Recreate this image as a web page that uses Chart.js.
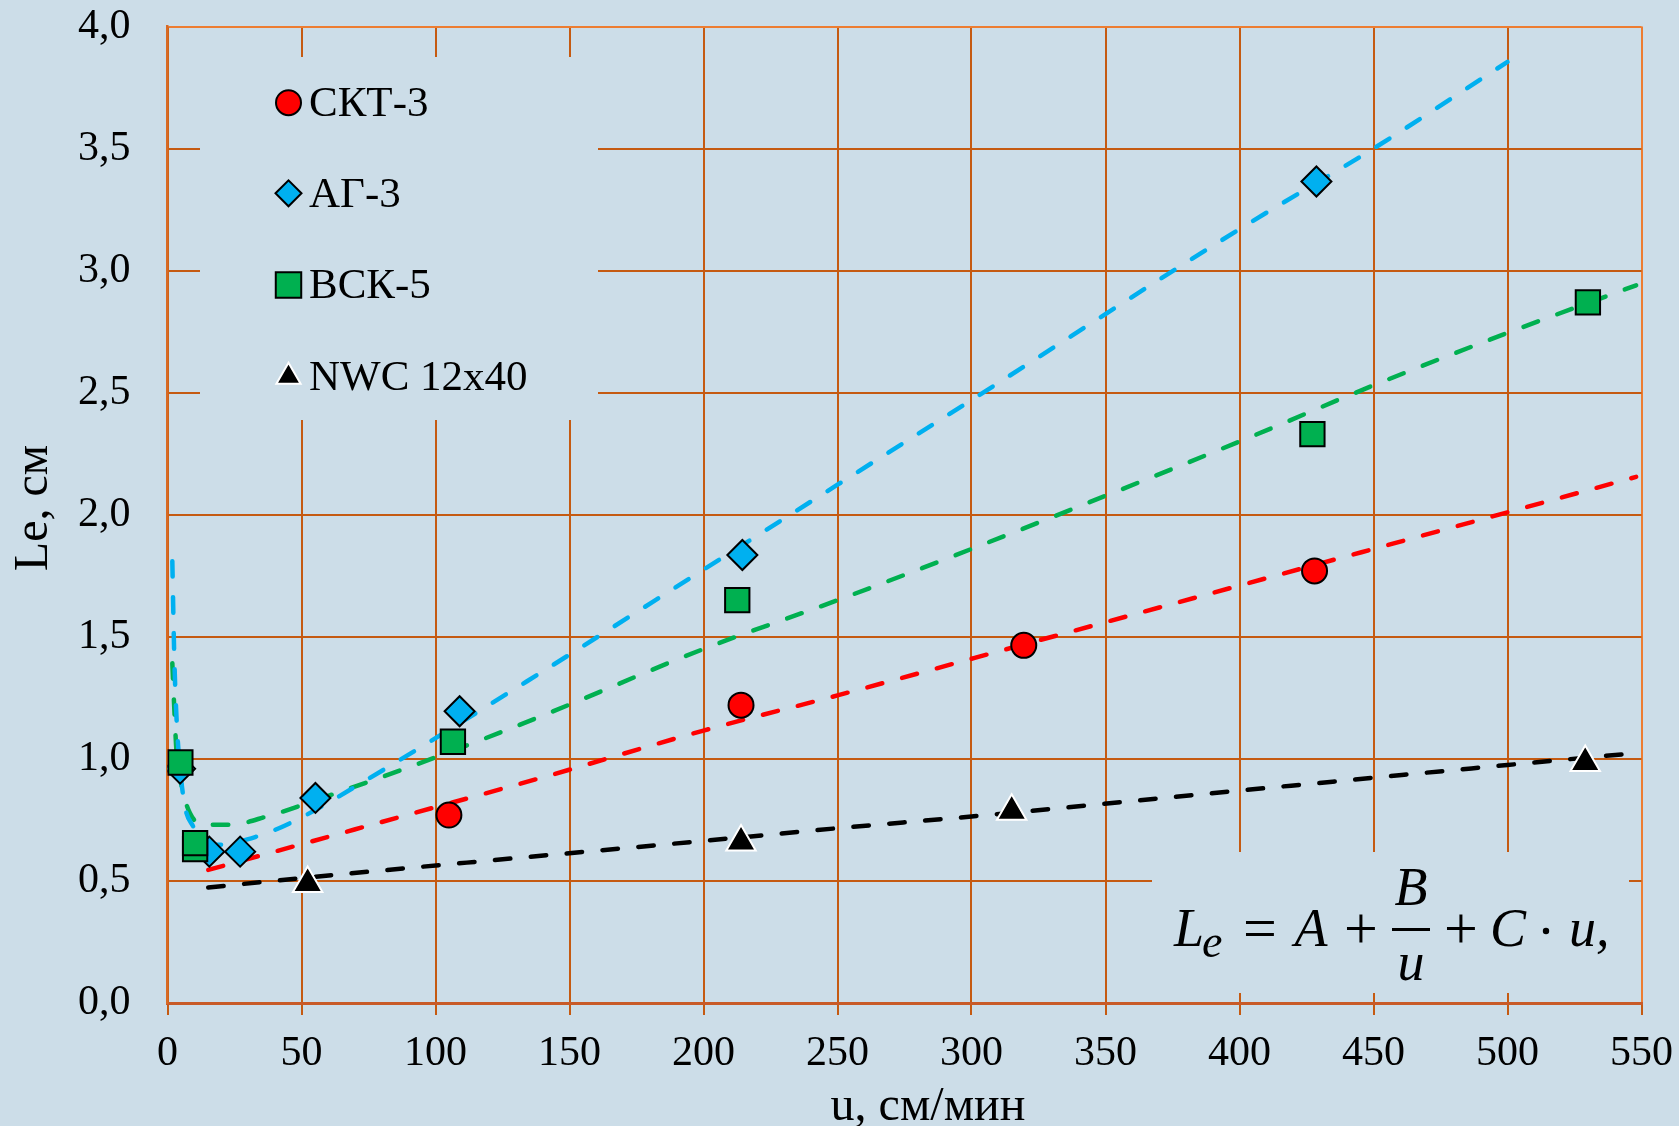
<!DOCTYPE html>
<html>
<head>
<meta charset="utf-8">
<script src="https://cdn.jsdelivr.net/npm/chart.js@4/dist/chart.umd.min.js"></script>
<style>
  html, body { margin: 0; padding: 0; background: #CCDDE8; }
  #wrap { width: 1679px; height: 1126px; }
</style>
</head>
<body>
<div id="wrap"><canvas id="c" width="1679" height="1126"></canvas></div>
<script>
// series names (legend order)
const seriesNames = ["СКТ-3", "АГ-3", "ВСК-5", "NWC 12x40"];

// measured points
const sktU = [105, 214, 319.5, 428];
const sktL = [0.77, 1.22, 1.465, 1.77];
const agU = [4.7, 15.6, 27.1, 55.2, 109, 214.5, 428.7];
const agL = [0.96, 0.62, 0.62, 0.84, 1.195, 1.835, 3.365];
const vskU = [4.8, 10.3, 10.3, 106.5, 212.6, 427.2, 530];
const vskL = [0.985, 0.63, 0.655, 1.07, 1.65, 2.33, 2.87];
const nwcU = [52.3, 214, 315, 529];
const nwcL = [0.49, 0.66, 0.785, 0.985];

// fitted curves
const fitSktU = [15.2, 35.7, 89.3, 139, 200, 250, 300, 400, 450, 500, 548];
const fitSktL = [0.545, 0.607, 0.77, 0.921, 1.116, 1.26, 1.41, 1.71, 1.86, 2.01, 2.155];
const fitAgU = [1.8, 2.5, 3.4, 5.9, 9.6, 18.4, 33.3, 46.9, 74.3, 134, 200, 250, 300, 400, 450, 500];
const fitAgL = [1.81, 1.433, 1.16, 0.845, 0.723, 0.648, 0.682, 0.743, 0.914, 1.317, 1.775, 2.123, 2.47, 3.17, 3.5, 3.855];
const fitVskU = [1.8, 2.5, 3.4, 5.3, 8.4, 13.4, 23.3, 37, 55.7, 99.2, 139, 200, 250, 300, 400, 450, 500, 548];
const fitVskL = [1.392, 1.214, 1.023, 0.886, 0.777, 0.73, 0.73, 0.764, 0.832, 1.003, 1.173, 1.45, 1.65, 1.86, 2.3, 2.53, 2.745, 2.94];
const fitNwcU = [15.2, 49.4, 133.4, 200, 250, 300, 400, 500, 550];
const fitNwcL = [0.473, 0.511, 0.597, 0.664, 0.716, 0.764, 0.87, 0.975, 1.026];

// axis ranges / titles
const xMin = 0, xMax = 550, xStep = 50;
const yMin = 0, yMax = 4, yStep = 0.5;
const xTitle = "u, см/мин";
const yTitle = "Le, см";

const BG = "#CCDDE8";
const GRID = "#C55A11";
const FRAME = "#ED7D31";
const SERIF = '"Liberation Serif", "Times New Roman", serif';
const RED = "#FF0000", BLUE = "#00B0F0", GREEN = "#00B050", BLACK = "#000000";

const zip = (xs, ys) => xs.map((x, i) => ({ x: x, y: ys[i] }));

function points(label, xs, ys, style, r, fill, stroke, order) {
  return {
    label: label, data: zip(xs, ys), showLine: false,
    pointStyle: style, pointRadius: r, pointHoverRadius: r,
    pointBackgroundColor: fill, pointBorderColor: stroke, pointBorderWidth: 2,
    order: order
  };
}

function fit(xs, ys, color) {
  return {
    label: "", data: zip(xs, ys), showLine: true, pointRadius: 0,
    borderColor: color, borderWidth: 4.5, borderDash: [15.5, 20.5],
    borderCapStyle: "round", cubicInterpolationMode: "monotone",
    order: 10
  };
}

const pointSets = [
  points(seriesNames[0], sktU, sktL, "circle", 12.5, RED, BLACK, 1),
  points(seriesNames[1], agU, agL, "rectRot", 15, BLUE, BLACK, 2),
  points(seriesNames[2], vskU, vskL, "rect", 17.2, GREEN, BLACK, 1),
  points(seriesNames[3], nwcU, nwcL, "triangle", 17, BLACK, "#FFFFFF", 0)
];

const fitSets = [
  fit(fitSktU, fitSktL, RED),
  fit(fitAgU, fitAgL, BLUE),
  fit(fitVskU, fitVskL, GREEN),
  fit(fitNwcU, fitNwcL, BLACK)
];

const decor = {
  id: "decor",
  beforeDraw(chart) {
    const ctx = chart.ctx;
    ctx.save();
    ctx.fillStyle = BG;
    ctx.fillRect(0, 0, chart.width, chart.height);
    ctx.restore();
  },
  beforeDatasetsDraw(chart) {
    // legend and formula panels hide the grid underneath
    const ctx = chart.ctx;
    ctx.save();
    ctx.fillStyle = BG;
    ctx.fillRect(200, 57, 398, 363);
    ctx.fillRect(1152, 852, 477, 141);
    ctx.restore();
  },
  afterDatasetsDraw(chart) {
    const ctx = chart.ctx;
    ctx.save();
    // legend
    const rows = [102.7, 193.3, 285, 376.7];
    pointSets.forEach((ds, i) => {
      ctx.fillStyle = ds.pointBackgroundColor;
      ctx.strokeStyle = ds.pointBorderColor;
      ctx.lineWidth = 2;
      const r = ds.pointStyle === "rect" ? 18 : ds.pointStyle === "rectRot" ? 13 : ds.pointStyle === "triangle" ? 14 : 12.5;
      Chart.helpers.drawPoint(ctx, { pointStyle: ds.pointStyle, radius: r, rotation: 0, borderWidth: 2 }, 288.5, rows[i]);
      ctx.fillStyle = "#000";
      ctx.font = "43px " + SERIF;
      ctx.textAlign = "left";
      ctx.textBaseline = "middle";
      ctx.fillText(ds.label, 309, rows[i] + 2);
    });

    // axis titles
    ctx.fillStyle = "#000";
    ctx.font = "48px " + SERIF;
    ctx.textAlign = "center";
    ctx.textBaseline = "alphabetic";
    ctx.fillText(xTitle, 928, 1120);
    ctx.save();
    ctx.translate(46.7, 508);
    ctx.rotate(-Math.PI / 2);
    ctx.fillText(yTitle, 0, 0);
    ctx.restore();

    // formula
    const it = "italic 54px " + SERIF;
    const up = "60px " + SERIF;
    ctx.textBaseline = "alphabetic";
    ctx.font = it; ctx.textAlign = "left"; ctx.fillText("L", 1174, 946);
    ctx.font = "italic 46px " + SERIF; ctx.fillText("e", 1202, 957);
    ctx.textAlign = "center";
    ctx.font = up; ctx.fillText("=", 1260, 948);
    ctx.font = it; ctx.fillText("A", 1311, 946);
    ctx.font = up; ctx.fillText("+", 1361, 948);
    ctx.font = it; ctx.fillText("B", 1411, 905);
    ctx.fillText("u", 1411, 980);
    ctx.fillRect(1392, 928, 38, 3);
    ctx.font = up; ctx.fillText("+", 1461, 948);
    ctx.font = it; ctx.fillText("C", 1508, 946);
    ctx.beginPath(); ctx.arc(1546, 931, 3.2, 0, Math.PI * 2); ctx.fill();
    ctx.font = it; ctx.textAlign = "left"; ctx.fillText("u,", 1569, 946);
    ctx.restore();
  }
};

new Chart(document.getElementById("c"), {
  type: "scatter",
  data: { datasets: pointSets.concat(fitSets) },
  options: {
    responsive: false,
    animation: false,
    devicePixelRatio: 1,
    layout: { padding: { left: 0, right: 37.5, top: 26.5, bottom: 0 } },
    plugins: { legend: { display: false }, tooltip: { enabled: false } },
    scales: {
      x: {
        type: "linear", min: xMin, max: xMax,
        ticks: {
          stepSize: xStep, padding: 0, color: "#000", maxRotation: 0, autoSkip: false,
          font: { family: SERIF, size: 42, lineHeight: 1.86 }
        },
        grid: {
          color: c => (c.tick && c.tick.value === xMax ? FRAME : GRID),
          tickColor: GRID, lineWidth: 2, tickLength: 12, drawTicks: true
        },
        border: { color: "#C85A28", width: 3 },
        afterFit: s => { s.height = 123; }
      },
      y: {
        type: "linear", min: yMin, max: yMax,
        ticks: {
          stepSize: yStep, padding: 0, color: "#000",
          font: { family: SERIF, size: 42 },
          callback: v => v.toFixed(1).replace(".", ",")
        },
        grid: {
          color: c => (c.tick && c.tick.value === yMax ? FRAME : GRID),
          lineWidth: 2, drawTicks: true, tickLength: 37, tickColor: "rgba(0,0,0,0)"
        },
        border: { color: "#D86A24", width: 2.5 },
        afterFit: s => { s.width = 167.5; }
      }
    }
  },
  plugins: [decor]
});
</script>
</body>
</html>
